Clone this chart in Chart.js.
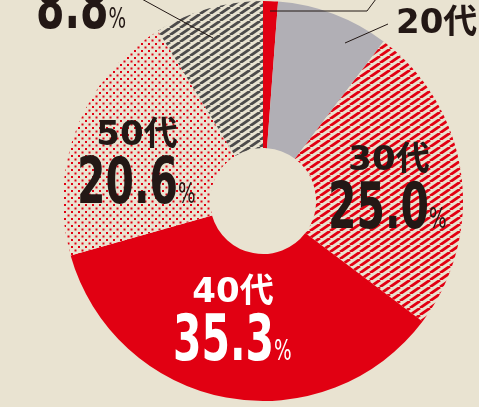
<!DOCTYPE html>
<html>
<head>
<meta charset="utf-8">
<script src="https://cdn.jsdelivr.net/npm/chart.js@4"></script>
<style>
  html, body { margin: 0; padding: 0; background: #e9e3d1; }
  #wrap { position: relative; width: 479px; height: 407px; overflow: hidden; }
</style>
</head>
<body>
<div id="wrap"><canvas id="ageChart" width="479" height="407"></canvas></div>
<script>
// data
const ageGroups = ["10代", "20代", "30代", "40代", "50代", "60代"];
const shares = [1.2, 9.1, 25.0, 35.3, 20.6, 8.8];
const shareText = ["1.2", "9.1", "25.0", "35.3", "20.6", "8.8"];

const BG = "#e9e3d1";
const RED = "#e10012";
const GRAY = "#b1afb5";
const INK = "#231815";

// patterns
function stripes(color, w, h, lw) {
  const c = document.createElement("canvas");
  c.width = w; c.height = h;
  const x = c.getContext("2d");
  x.fillStyle = BG;
  x.fillRect(0, 0, w, h);
  x.strokeStyle = color;
  x.lineWidth = lw;
  for (let k = -1; k <= 1; k++) {
    x.beginPath();
    x.moveTo(k * w, h);
    x.lineTo(k * w + w, 0);
    x.stroke();
  }
  return x.createPattern(c, "repeat");
}

function dots(color, s, r) {
  const c = document.createElement("canvas");
  c.width = s; c.height = s;
  const x = c.getContext("2d");
  x.fillStyle = BG;
  x.fillRect(0, 0, s, s);
  x.fillStyle = color;
  x.fillRect(1, 1, r, r);
  x.fillRect(1 + s / 2, 1 + s / 2, r, r);
  return x.createPattern(c, "repeat");
}

const redStripe = stripes(RED, 10, 7, 2.8);
const grayStripe = stripes("#4d4b4b", 10, 7, 2.8);
const redDots = dots(RED, 7, 2);

// label layout (text positions only)
const labelPos = [
  null,
  { name: [396, 33] },
  { name: [389, 170, "center"], num: [328, 228] },
  { name: [233, 302, "center"], num: [173, 360], color: "#ffffff" },
  { name: [137, 145, "center"], num: [77, 203] },
  { num: [36, 28] }
];

function drawNumber(ctx, txt, x, y, color) {
  ctx.save();
  ctx.fillStyle = color;
  ctx.textBaseline = "alphabetic";
  ctx.textAlign = "left";
  ctx.font = "bold 64px 'Liberation Sans Narrow', 'DejaVu Sans Condensed', sans-serif";
  const sx = 28.5 / ctx.measureText("0").width;
  ctx.translate(x, y);
  ctx.scale(sx, 1);
  ctx.fillText(txt, 0, 0);
  const w = ctx.measureText(txt).width;
  ctx.font = "29px 'Liberation Sans Narrow', 'DejaVu Sans Condensed', sans-serif";
  ctx.fillText("%", w, 0);
  ctx.restore();
}

const labelPlugin = {
  id: "labelPlugin",
  afterDraw(chart) {
    const ctx = chart.ctx;
    // leader lines
    ctx.save();
    ctx.strokeStyle = INK;
    ctx.lineWidth = 1;
    ctx.beginPath();
    ctx.moveTo(140, -2); ctx.lineTo(213, 38);
    ctx.moveTo(270, 11); ctx.lineTo(367, 11); ctx.lineTo(376, -1);
    ctx.moveTo(345, 43); ctx.lineTo(388, 24);
    ctx.stroke();
    ctx.restore();

    labelPos.forEach((p, i) => {
      if (!p) return;
      const color = p.color || INK;
      if (p.name) {
        ctx.save();
        ctx.fillStyle = color;
        ctx.font = "bold 34px 'DejaVu Sans', 'Noto Sans CJK JP', sans-serif";
        ctx.textAlign = p.name[2] || "left";
        ctx.textBaseline = "alphabetic";
        ctx.fillText(ageGroups[i], p.name[0], p.name[1]);
        ctx.restore();
      }
      if (p.num) drawNumber(ctx, shareText[i], p.num[0], p.num[1], color);
    });
  }
};

new Chart(document.getElementById("ageChart"), {
  type: "doughnut",
  data: {
    labels: ageGroups,
    datasets: [{
      data: shares,
      backgroundColor: [RED, GRAY, redStripe, RED, redDots, grayStripe],
      borderWidth: 0,
      hoverOffset: 0
    }]
  },
  options: {
    responsive: false,
    animation: false,
    cutout: "26.5%",
    layout: { padding: { left: 63, right: 16, top: 1, bottom: 6 } },
    plugins: { legend: { display: false }, tooltip: { enabled: false } }
  },
  plugins: [labelPlugin]
});
</script>
</body>
</html>
